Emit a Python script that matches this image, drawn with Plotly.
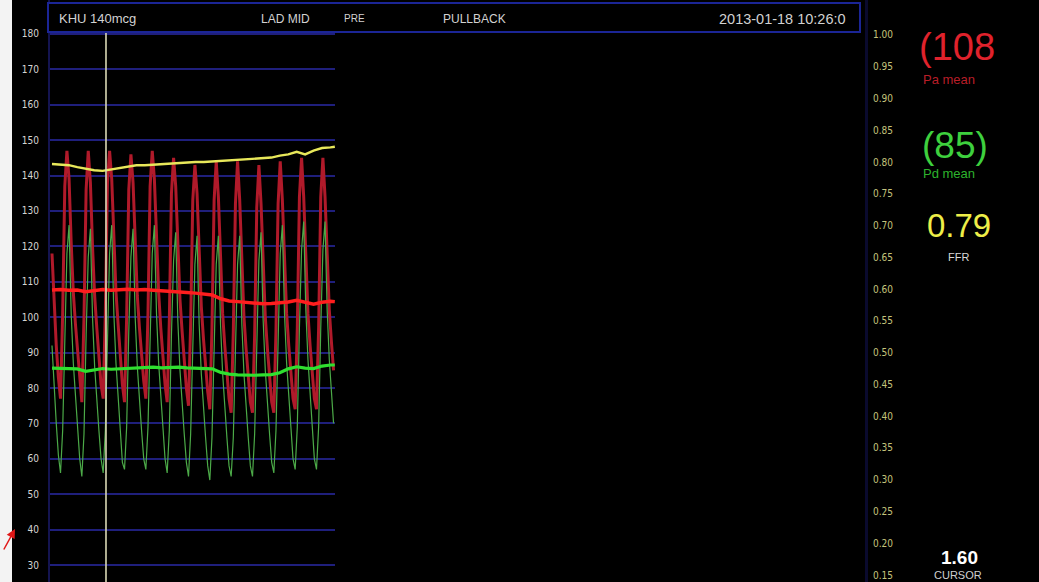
import numpy as np
import plotly.graph_objects as go

W, H = 1039, 582

# ---- recorded signals -------------------------------------------------------
DT = 0.0632          # sampling interval of the pressure traces (s)
CURSOR_T = 1.60      # cursor position (s)

# aortic pressure Pa (mmHg), one sample every DT
PA_WAVE = [
    118, 104, 92, 83,
    77, 101, 137, 147, 139, 121, 107, 98, 90, 82,
    76, 100, 136, 147, 138, 120, 106, 97, 89, 81,
    77, 101, 138, 147, 139, 121, 107, 98, 89, 81,
    76, 100, 136, 146, 138, 120, 106, 97, 89, 82,
    77, 101, 137, 147, 139, 121, 107, 97, 89, 81,
    76, 99, 135, 145, 137, 119, 105, 96, 88, 80,
    75, 98, 133, 143, 135, 117, 103, 94, 86, 79,
    74, 97, 133, 144, 134, 116, 101, 92, 84, 77,
    73, 96, 132, 144, 133, 115, 100, 91, 83, 76,
    73, 95, 131, 143, 132, 114, 100, 91, 83, 76,
    73, 96, 132, 144, 133, 115, 101, 92, 84, 77,
    74, 97, 134, 145, 134, 116, 101, 92, 84, 77,
    74, 97, 134, 145, 134, 116, 102, 93, 85,
]

# distal pressure Pd (mmHg), same time base
PD_WAVE = [
    92, 80, 70, 61,
    56, 68, 96, 118, 126, 101, 87, 77, 69, 60,
    55, 67, 95, 117, 125, 100, 86, 76, 68, 60,
    56, 68, 96, 118, 126, 101, 87, 77, 68, 59,
    57, 69, 96, 117, 125, 100, 86, 76, 68, 60,
    57, 69, 97, 118, 126, 101, 87, 77, 69, 60,
    56, 68, 95, 116, 124, 99, 85, 75, 67, 59,
    55, 67, 94, 115, 123, 98, 84, 74, 66, 58,
    54, 66, 93, 115, 123, 98, 84, 74, 66, 58,
    55, 66, 93, 115, 123, 98, 84, 74, 66, 58,
    55, 67, 94, 116, 124, 99, 85, 75, 67, 59,
    56, 68, 96, 118, 126, 101, 87, 77, 69, 60,
    57, 69, 97, 119, 127, 102, 88, 78, 69, 60,
    57, 69, 97, 119, 127, 102, 88, 78, 70,
]

# running means and ratio (s, mmHg, ratio)
MEAN_T = [0.0, 0.25, 0.5, 0.75, 1.0, 1.25, 1.5, 1.75, 2.0, 2.25, 2.5, 2.75,
          3.0, 3.25, 3.5, 3.75, 4.0, 4.25, 4.5, 4.75, 5.0, 5.25, 5.5, 5.75,
          6.0, 6.25, 6.5, 6.75, 7.0, 7.25, 7.5, 7.75, 8.0, 8.25, 8.38]
PA_MEAN = [107.7, 107.8, 107.6, 107.7, 107.2, 107.6, 107.8, 107.6, 107.8, 107.9,
           107.7, 107.8, 107.6, 107.5, 107.4, 107.2, 107.0, 106.8, 106.6, 106.3,
           105.2, 104.6, 104.4, 104.2, 104.0, 103.8, 103.9, 104.1, 104.3, 104.8,
           104.2, 103.7, 104.2, 104.5, 104.4]
PD_MEAN = [85.6, 85.5, 85.6, 85.4, 84.7, 85.2, 85.5, 85.3, 85.4, 85.6,
           85.7, 85.8, 85.9, 85.7, 85.8, 85.9, 85.7, 85.6, 85.5, 85.4,
           84.4, 83.9, 83.7, 83.6, 83.6, 83.7, 83.8, 84.3, 85.4, 86.0,
           85.6, 85.5, 86.2, 86.5, 86.5]
FFR_TREND = [0.797, 0.796, 0.795, 0.792, 0.789, 0.787, 0.786, 0.788, 0.790, 0.793,
             0.795, 0.795, 0.796, 0.797, 0.798, 0.798, 0.799, 0.800, 0.800, 0.801,
             0.802, 0.802, 0.803, 0.804, 0.805, 0.806, 0.807, 0.810, 0.812, 0.816,
             0.812, 0.818, 0.822, 0.823, 0.824]

# readouts
PA_READ = 108
PD_READ = 85
FFR_READ = 0.79

PRESSURE_TICKS = [30, 40, 50, 60, 70, 80, 90, 100, 110, 120, 130, 140, 150, 160, 170, 180]
RATIO_TICKS = [0.15, 0.20, 0.25, 0.30, 0.35, 0.40, 0.45, 0.50, 0.55, 0.60,
               0.65, 0.70, 0.75, 0.80, 0.85, 0.90, 0.95, 1.00]

HEADER = [("KHU 140mcg", 57, 13), ("LAD MID", 259, 12), ("PRE", 342, 10),
          ("PULLBACK", 441, 12), ("2013-01-18 10:26:0", 717, 14.5)]

# ---- helpers for placing layout items in pixels ----------------------------
def px(x):
    return x / W


def py(y):
    return 1 - y / H


NARROW = "Liberation Sans Narrow, Arial Narrow, DejaVu Sans Condensed, sans-serif"
SANS = "Liberation Sans, Arial, sans-serif"

t = np.arange(len(PA_WAVE)) * DT

fig = go.Figure()
fig.add_trace(go.Scatter(x=t, y=PA_WAVE, mode="lines",
                         line=dict(color="#b01a2a", width=3.0), hoverinfo="skip"))
fig.add_trace(go.Scatter(x=t, y=PD_WAVE, mode="lines",
                         line=dict(color="#4caa48", width=1.2), hoverinfo="skip"))
fig.add_trace(go.Scatter(x=MEAN_T, y=PA_MEAN, mode="lines",
                         line=dict(color="#ff1e1e", width=3.5), hoverinfo="skip"))
fig.add_trace(go.Scatter(x=MEAN_T, y=PD_MEAN, mode="lines",
                         line=dict(color="#2fe02f", width=3.2), hoverinfo="skip"))
fig.add_trace(go.Scatter(x=MEAN_T, y=FFR_TREND, mode="lines", yaxis="y2",
                         line=dict(color="#e8e85a", width=2.4), hoverinfo="skip"))

shapes = [
    # light margin strip on the far left
    dict(type="rect", xref="paper", yref="paper", x0=0, x1=px(12), y0=0, y1=1,
         fillcolor="#f3f3f3", line=dict(width=0), layer="below"),
    # cursor
    dict(type="line", xref="x", yref="paper", x0=CURSOR_T, x1=CURSOR_T,
         y0=0, y1=py(33), line=dict(color="#d9d8b4", width=1.6), layer="above"),
    # header bar
    dict(type="rect", xref="paper", yref="paper", x0=px(48), x1=px(860),
         y0=py(32), y1=py(3), fillcolor="#000000",
         line=dict(color="#1b2596", width=2), layer="above"),
]

annotations = []
for text, x0, size in HEADER:
    annotations.append(dict(text=text, x=px(x0), y=py(19), xref="paper", yref="paper",
                            xanchor="left", yanchor="middle", showarrow=False,
                            font=dict(family=SANS, size=size, color="#d2d2d2")))

def readout(text, x, y, size, color, anchor="left", bold=False):
    return dict(text=f"<b>{text}</b>" if bold else text, x=px(x), y=py(y),
                xref="paper", yref="paper", xanchor=anchor, yanchor="middle",
                showarrow=False, font=dict(family=SANS, size=size, color=color))

annotations += [
    readout(f"({PA_READ}", 917, 47, 38, "#e0222c"),
    readout("Pa mean", 921, 80, 13, "#b81e28"),
    readout(f"({PD_READ})", 920, 145, 37, "#3ed03e"),
    readout("Pd mean", 921, 173, 13, "#2db42d"),
    readout(f"{FFR_READ:.2f}", 925, 226, 33, "#eeee48"),
    readout("FFR", 958, 257, 11, "#d8d8d8", anchor="center"),
    readout(f"{CURSOR_T:.2f}", 959, 557, 19, "#ffffff", anchor="center", bold=True),
    readout("CURSOR", 958, 575, 11, "#cfcfcf", anchor="center"),
    # red pointer at the lower left
    dict(x=px(15), y=py(529), xref="paper", yref="paper", text="", showarrow=True,
         ax=-12, ay=22, arrowhead=2, arrowsize=1.2, arrowwidth=1.5, arrowcolor="#e01818"),
]

fig.update_layout(
    width=W, height=H, autosize=False,
    margin=dict(l=0, r=0, t=0, b=0),
    paper_bgcolor="#000000", plot_bgcolor="#000000",
    showlegend=False,
    shapes=shapes, annotations=annotations,
    xaxis=dict(domain=[px(50), px(335)], range=[-0.059, 8.385],
               showgrid=False, zeroline=False, showticklabels=False, showline=False),
    yaxis=dict(range=[25.2, 189.6], tickvals=PRESSURE_TICKS,
               ticktext=[str(v) for v in PRESSURE_TICKS],
               showgrid=True, gridcolor="#1f1f7c", gridwidth=2, zeroline=False,
               showline=True, linecolor="#141450", linewidth=2,
               ticks="", ticklabelstandoff=7,
               tickfont=dict(family=NARROW, size=10, color="#d4d4d4")),
    yaxis2=dict(range=[0.139, 1.055], overlaying="y", anchor="free",
                position=px(866), side="right", tickvals=RATIO_TICKS,
                ticktext=[f"{v:.2f}" for v in RATIO_TICKS],
                showgrid=False, zeroline=False,
                showline=True, linecolor="#0a0a2e", linewidth=3,
                ticks="", ticklabelstandoff=3,
                tickfont=dict(family=NARROW, size=10, color="#c4c47c")),
)

fig.write_html("out.html")
